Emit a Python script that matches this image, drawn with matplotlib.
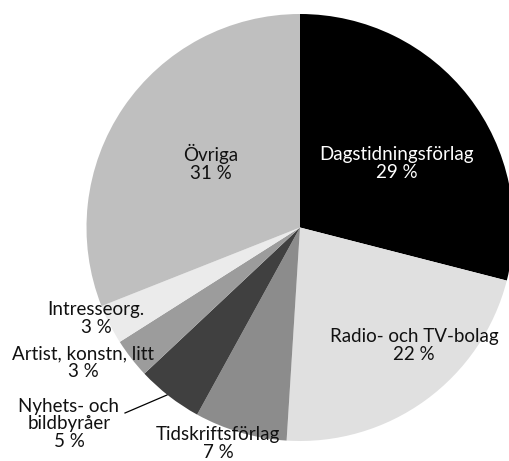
import matplotlib
matplotlib.use("Agg")
import matplotlib.pyplot as plt

categories = ["Dagstidningsförlag", "Radio- och TV-bolag", "Tidskriftsförlag",
              "Nyhets- och\nbildbyråer", "Artist, konstn, litt", "Intresseorg.", "Övriga"]
values = [29, 22, 7, 5, 3, 3, 31]
colors = ["#000000", "#e0e0e0", "#8c8c8c", "#404040", "#9c9c9c", "#ebebeb", "#bfbfbf"]
text_colors = ["white", "#111111", "#111111", "#111111", "#111111", "#111111", "#111111"]

W, H = 510, 461
cx, cy, R = 300.0, 227.5, 213.5
# label anchor (centre x, last-line baseline y) in pixels from top-left
label_pos = [(397, 178), (414, 360), (218, 458), (69, 447), (83, 377), (96, 333), (211, 179)]

plt.rcParams['font.family'] = ['Lato', 'DejaVu Sans']
fig = plt.figure(figsize=(W / 100, H / 100), dpi=100)
ax = fig.add_axes([(cx - R) / W, (H - cy - R) / H, 2 * R / W, 2 * R / H])
ax.pie(values, colors=colors, startangle=90, counterclock=False, radius=1.0,
       wedgeprops=dict(linewidth=0))
ax.set_xlim(-1, 1)
ax.set_ylim(-1, 1)
ax.set_aspect('equal')
ax.axis('off')

def to_data(px, py):
    return (px - cx) / R, (cy - py) / R

for cat, val, (px, py), tc in zip(categories, values, label_pos, text_colors):
    x, y = to_data(px, py)
    ax.text(x, y, f"{cat}\n{val} %", ha='center', va='baseline', fontsize=13.5,
            color=tc, linespacing=1.05, clip_on=False)

x0, y0 = to_data(125, 413)
x1, y1 = to_data(167, 395)
ax.plot([x0, x1], [y0, y1], color='black', linewidth=0.9, clip_on=False)

fig.savefig("out.png", dpi=100)
